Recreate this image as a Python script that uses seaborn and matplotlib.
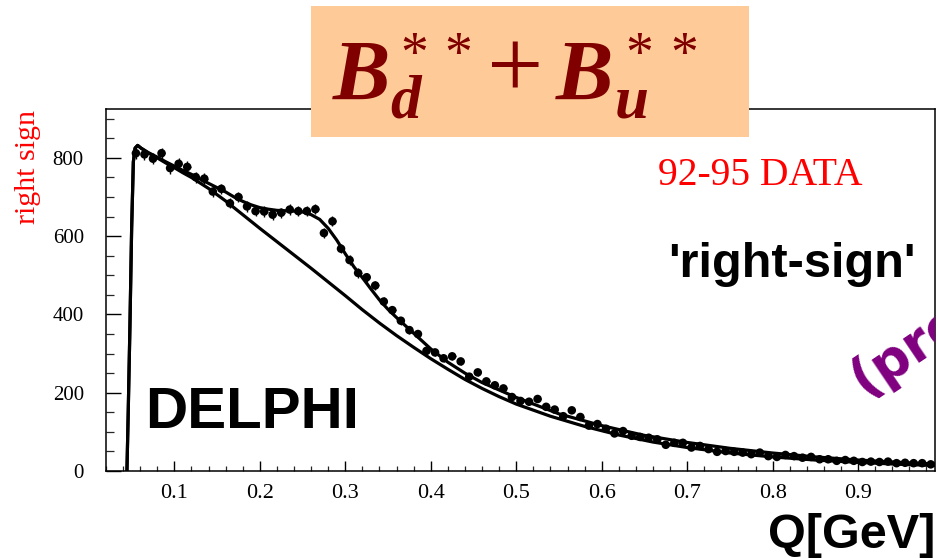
import numpy as np
import pandas as pd
import matplotlib
matplotlib.use("Agg")
import matplotlib.pyplot as plt
import seaborn as sns
from matplotlib.patches import Rectangle
from matplotlib.ticker import FixedLocator, MultipleLocator

# ---------------- data ----------------
q_bins = [0.055, 0.065, 0.075, 0.085, 0.095, 0.105, 0.115, 0.125, 0.135, 0.145,
          0.155, 0.165, 0.175, 0.185, 0.195, 0.205, 0.215, 0.225, 0.235, 0.245,
          0.255, 0.265, 0.275, 0.285, 0.295, 0.305, 0.315, 0.325, 0.335, 0.345,
          0.355, 0.365, 0.375, 0.385, 0.395, 0.405, 0.415, 0.425, 0.435, 0.445,
          0.455, 0.465, 0.475, 0.485, 0.495, 0.505, 0.515, 0.525, 0.535, 0.545,
          0.555, 0.565, 0.575, 0.585, 0.595, 0.605, 0.615, 0.625, 0.635, 0.645,
          0.655, 0.665, 0.675, 0.685, 0.695, 0.705, 0.715, 0.725, 0.735, 0.745,
          0.755, 0.765, 0.775, 0.785, 0.795, 0.805, 0.815, 0.825, 0.835, 0.845,
          0.855, 0.865, 0.875, 0.885, 0.895, 0.905, 0.915, 0.925, 0.935, 0.945,
          0.955, 0.965, 0.975, 0.985]
counts = [812, 809, 798, 812, 774, 785, 777, 751, 747, 714,
          721, 684, 700, 676, 664, 663, 655, 660, 668, 664,
          664, 669, 608, 638, 568, 539, 506, 495, 474, 433,
          411, 384, 360, 350, 307, 303, 288, 293, 280, 241,
          252, 229, 219, 211, 189, 179, 177, 184, 164, 157,
          140, 155, 138, 116, 120, 108, 96, 102, 90, 87,
          85, 81, 67, 72, 72, 60, 64, 56, 49, 51,
          49, 47, 43, 47, 38, 36, 41, 38, 34, 36,
          30, 30, 26, 28, 26, 23, 24, 23, 24, 20,
          21, 20, 20, 17]
count_err = [14, 14, 14, 14, 14, 14, 14, 14, 14, 13,
             13, 13, 13, 13, 13, 13, 13, 13, 13, 13,
             13, 13, 13, 13, 12, 12, 12, 12, 12, 11,
             11, 10, 10, 10, 9, 9, 9, 9, 9, 8,
             8, 8, 8, 8, 7, 7, 7, 7, 7, 7,
             6, 6, 6, 6, 6, 6, 5, 5, 5, 5,
             5, 5, 5, 5, 5, 4, 4, 4, 4, 4,
             4, 4, 4, 4, 4, 4, 4, 4, 4, 4,
             3, 3, 3, 3, 3, 3, 3, 3, 3, 3,
             3, 3, 3, 3]

fit_q = [0.0445, 0.046, 0.048, 0.050, 0.052, 0.054, 0.057, 0.061, 0.07, 0.08,
         0.09, 0.10, 0.11, 0.12, 0.13, 0.14, 0.15, 0.16, 0.17, 0.18,
         0.19, 0.20, 0.21, 0.22, 0.23, 0.24, 0.25, 0.26, 0.27, 0.28,
         0.29, 0.30, 0.31, 0.32, 0.33, 0.34, 0.35, 0.36, 0.38, 0.40,
         0.42, 0.44, 0.46, 0.50, 0.55, 0.60, 0.65, 0.70, 0.75, 0.80,
         0.85, 0.90, 0.95, 0.99]
fit_total = [0, 150, 370, 620, 790, 825, 832, 825, 813, 802,
             790, 779, 768, 758, 746, 735, 724, 713, 700, 689,
             680, 673, 669, 666, 665, 664, 662, 655, 643, 620,
             590, 555, 522, 494, 465, 437, 413, 392, 352, 312,
             278, 250, 226, 188, 146, 116, 91, 73, 58, 46,
             36, 28, 22, 18]

bkg_q = [0.0445, 0.046, 0.048, 0.050, 0.052, 0.054, 0.057, 0.061, 0.07, 0.08,
         0.09, 0.10, 0.11, 0.12, 0.13, 0.14, 0.15, 0.16, 0.18, 0.20,
         0.22, 0.24, 0.26, 0.28, 0.30, 0.32, 0.34, 0.36, 0.38, 0.40,
         0.42, 0.44, 0.46, 0.48, 0.50, 0.54, 0.58, 0.62, 0.66, 0.70,
         0.75, 0.80, 0.85, 0.90, 0.95, 0.99]
bkg_total = [0, 150, 370, 620, 790, 825, 832, 825, 812, 800,
             787, 775, 762, 750, 736, 722, 706, 690, 655, 620,
             586, 552, 518, 483, 448, 412, 378, 346, 316, 287,
             260, 234, 211, 190, 171, 140, 114, 92, 74, 60,
             46, 36, 28, 22, 17, 14]

x_ticks = [0.1, 0.2, 0.3, 0.4, 0.5, 0.6, 0.7, 0.8, 0.9]
x_tick_labels = ["0.1", "0.2", "0.3", "0.4", "0.5", "0.6", "0.7", "0.8", "0.9"]
y_ticks = [0, 200, 400, 600, 800]
y_tick_labels = ["0", "200", "400", "600", "800"]

# ---------------- style ----------------
sns.set_theme(style="ticks")
plt.rcParams['font.family'] = ['Liberation Serif', 'DejaVu Serif']
plt.rcParams['axes.linewidth'] = 1.1

W, H = 938, 558
fig = plt.figure(figsize=(W / 100, H / 100), dpi=100)
fig.patch.set_facecolor('white')

L, R, T, B = 106, 935, 109, 471
ax = fig.add_axes([L / W, 1 - B / H, (R - L) / W, (B - T) / H])
ax.set_facecolor('white')


def px(x, y):
    return (x / W, 1 - y / H)


df_fit = pd.DataFrame({"Q": fit_q, "N": fit_total})
df_bkg = pd.DataFrame({"Q": bkg_q, "N": bkg_total})
df_pts = pd.DataFrame({"Q": q_bins, "N": counts, "err": count_err})

sns.lineplot(data=df_bkg, x="Q", y="N", ax=ax, color="black", lw=2.3,
             sort=False, estimator=None, zorder=2)
sns.lineplot(data=df_fit, x="Q", y="N", ax=ax, color="black", lw=2.3,
             sort=False, estimator=None, zorder=2)
ax.errorbar(df_pts["Q"], df_pts["N"], yerr=df_pts["err"], xerr=0.004,
            fmt="none", ecolor="black", elinewidth=1.0, zorder=3)
sns.scatterplot(data=df_pts, x="Q", y="N", ax=ax, color="black", s=38,
                marker="o", edgecolor="none", zorder=4, legend=False)

ax.set_xlim(0.02, 0.99)
ax.set_ylim(0, 925)
ax.set_xlabel("")
ax.set_ylabel("")

ax.xaxis.set_major_locator(FixedLocator(x_ticks))
ax.set_xticklabels(x_tick_labels)
ax.xaxis.set_minor_locator(MultipleLocator(0.02))
ax.yaxis.set_major_locator(FixedLocator(y_ticks))
ax.set_yticklabels(y_tick_labels)
ax.yaxis.set_minor_locator(MultipleLocator(50))

ax.tick_params(axis='x', which='major', direction='in', length=7, width=1,
               labelsize=16, pad=9, colors='black')
ax.tick_params(axis='x', which='minor', direction='in', length=3.5, width=0.9)
ax.tick_params(axis='y', which='major', direction='in', length=11, width=1,
               labelsize=15, pad=16, colors='black')
ax.tick_params(axis='y', which='minor', direction='in', length=5.5, width=0.9)
for s in ax.spines.values():
    s.set_color('black')
    s.set_visible(True)

# texts inside the plot
ax.text(*px(760, 185), "92-95 DATA", transform=fig.transFigure, color='red',
        fontsize=28.5, ha='center', va='baseline', family=['Liberation Serif'])
ax.text(*px(792, 277), "'right-sign'", transform=fig.transFigure, color='black',
        fontsize=35, fontweight='bold', ha='center', va='baseline',
        family=['Liberation Sans'])
ax.text(*px(252, 428), "DELPHI", transform=fig.transFigure, color='black',
        fontsize=42, fontweight='bold', ha='center', va='baseline',
        family=['Liberation Sans'])
ax.text(*px(864, 397), "(pre", transform=fig.transFigure, color='#800080',
        fontsize=38, fontweight='bold', ha='left', va='baseline', rotation=34,
        rotation_mode='anchor', family=['DejaVu Sans'], clip_on=True)

# axis titles
fig.text(*px(28, 110), "right sign", color='red', fontsize=21.5, rotation=90,
         ha='center', va='top', family=['Liberation Serif'])
fig.text(*px(935, 548), "Q[GeV]", color='black', fontsize=35,
         fontweight='bold', ha='right', va='baseline', family=['Liberation Sans'])

# title box
rect = Rectangle(px(311, 137), (749 - 311) / W, (137 - 6) / H,
                 transform=fig.transFigure, facecolor='#FECB98',
                 edgecolor='none', zorder=10)
fig.add_artist(rect)
tc = '#800000'
fig.text(*px(333, 100), "B", color=tc, fontsize=62, fontweight='bold',
         style='italic', ha='left', va='baseline', zorder=11,
         family=['Liberation Serif'])
fig.text(*px(406, 118), "d", color=tc, fontsize=44, fontweight='bold',
         style='italic', ha='center', va='baseline', zorder=11,
         family=['Liberation Serif'])
fig.text(*px(632, 118), "u", color=tc, fontsize=44, fontweight='bold',
         style='italic', ha='center', va='baseline', zorder=11,
         family=['Liberation Serif'])
fig.text(*px(515, 75), "+", color=tc, fontsize=72, ha='center', va='center',
         zorder=11, family=['Liberation Serif'])
fig.text(*px(556, 100), "B", color=tc, fontsize=62, fontweight='bold',
         style='italic', ha='left', va='baseline', zorder=11,
         family=['Liberation Serif'])
for sx in (414, 458, 639, 684):
    fig.text(*px(sx, 57), "*", color=tc, fontsize=40, ha='center',
             va='center', zorder=11, family=['Liberation Serif'])

fig.savefig("out.png", dpi=100, facecolor='white')
